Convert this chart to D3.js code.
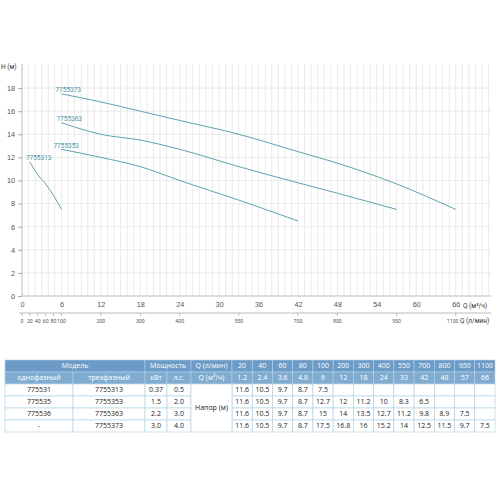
<!DOCTYPE html>
<html>
<head>
<meta charset="utf-8">
<script src="https://cdn.jsdelivr.net/npm/d3@7"></script>
<style>
  body { margin: 0; background: #fff; }
  svg { display: block; }
</style>
</head>
<body>
<div id="viewport"></div>
<script>
// flow points, l/min and m3/h (columns of the table)
var qLmin = [20, 40, 60, 80, 100, 200, 300, 400, 550, 700, 800, 950, 1100];
var qM3h = [1.2, 2.4, 3.6, 4.8, 6, 12, 18, 24, 33, 42, 48, 57, 66];

// pump models
var singlePhase = ["775531", "775535", "775536", "-"];
var threePhase = ["7755313", "7755353", "7755363", "7755373"];
var powerKw = ["0.37", "1.5", "2.2", "3.0"];
var powerHp = ["0.5", "2.0", "3.0", "4.0"];

// head, m (null = empty cell)
var head7755313 = [11.6, 10.5, 9.7, 8.7, 7.5, null, null, null, null, null, null, null, null];
var head7755353 = [11.6, 10.5, 9.7, 8.7, 12.7, 12, 11.2, 10, 8.3, 6.5, null, null, null];
var head7755363 = [11.6, 10.5, 9.7, 8.7, 15, 14, 13.5, 12.7, 11.2, 9.8, 8.9, 7.5, null];
var head7755373 = [11.6, 10.5, 9.7, 8.7, 17.5, 16.8, 16, 15.2, 14, 12.5, 11.5, 9.7, 7.5];
var heads = [head7755313, head7755353, head7755363, head7755373];

// first table column each curve is drawn from
var curveFrom = [0, 4, 4, 4];

var yTicks = [0, 2, 4, 6, 8, 10, 12, 14, 16, 18];
var xTicks = [0, 6, 12, 18, 24, 30, 36, 42, 48, 54, 60, 66];

var W = 500, H = 500;
var svg = d3.select("#viewport").append("svg")
    .attr("width", W).attr("height", H)
    .style("font-family", "Roboto, 'Open Sans', sans-serif");

// scales
var x = d3.scaleLinear().domain([0, 66]).range([22, 455.7]);
var y = d3.scaleLinear().domain([0, 20]).range([296, 65]);

var lineColor = "#5fa3b0", labelColor = "#4b95a8", gridColor = "#e6e6e6";

// grid
var grid = svg.append("g");
grid.selectAll(".vg").data(d3.range(1, 72)).enter().append("line")
    .attr("x1", function(d) { return x(d); }).attr("x2", function(d) { return x(d); })
    .attr("y1", 64).attr("y2", 296)
    .attr("stroke", gridColor).attr("stroke-width", 0.8);
grid.selectAll(".hg").data(yTicks.slice(1)).enter().append("line")
    .attr("x1", 22).attr("x2", 491)
    .attr("y1", function(d) { return y(d); }).attr("y2", function(d) { return y(d); })
    .attr("stroke", gridColor).attr("stroke-width", 0.8);

// axes
var yAxis = svg.append("g")
    .attr("transform", "translate(22,0)")
    .call(d3.axisLeft(y).tickValues(yTicks).tickSize(4).tickPadding(3));
yAxis.select(".domain").attr("d", "M0,64V296").attr("stroke", "#bbb");
yAxis.selectAll(".tick line").attr("stroke", "#aaa");
yAxis.selectAll("text").attr("fill", "#555").style("font-size", "7.3px");

var xAxis = svg.append("g")
    .attr("transform", "translate(0,296)")
    .call(d3.axisBottom(x).tickValues(xTicks).tickSize(0).tickPadding(6));
xAxis.select(".domain").attr("d", "M22,0H491").attr("stroke", "#bbb");
xAxis.selectAll("text").attr("fill", "#555").style("font-size", "7.3px");

// second axis in l/min
var x2 = function(l) { return x(l * 0.06); };
var x2Axis = svg.append("g").attr("transform", "translate(0,313)");
x2Axis.append("line").attr("x1", 19).attr("x2", 491).attr("stroke", "#aaa").attr("stroke-width", 0.8);
x2Axis.selectAll(".t").data([0].concat(qLmin)).enter().append("line")
    .attr("x1", function(d) { return x2(d); }).attr("x2", function(d) { return x2(d); })
    .attr("y1", 0).attr("y2", 3).attr("stroke", "#999").attr("stroke-width", 0.6);
x2Axis.selectAll("text").data([0].concat(qLmin)).enter().append("text")
    .attr("x", function(d) { return x2(d) - (d === 1100 ? 3 : 0); }).attr("y", 9.5)
    .attr("text-anchor", "middle").attr("fill", "#555")
    .style("font-size", "5.2px").text(function(d) { return d; });

// axis titles
svg.append("text").attr("x", 1).attr("y", 69).attr("fill", "#333")
    .style("font-size", "6.5px").text("H (м)");
svg.append("text").attr("x", 463).attr("y", 307.5).attr("fill", "#333")
    .style("font-size", "6.5px").text("Q (м³/ч)");
svg.append("text").attr("x", 460).attr("y", 323).attr("fill", "#333")
    .style("font-size", "6.5px").text("Q (л/мин)");

// curves
var line = d3.line()
    .x(function(d) { return x(d.q); })
    .y(function(d) { return y(d.h); })
    .curve(d3.curveMonotoneX);

var labelOffset = [[-4, -2.5], [-8, -1.5], [-5, -2], [-6, -2]];
heads.forEach(function(h, i) {
    var pts = [];
    for (var k = curveFrom[i]; k < h.length; k++) {
        if (h[k] !== null) pts.push({q: qM3h[k], h: h[k]});
    }
    svg.append("path").datum(pts)
        .attr("d", line)
        .attr("fill", "none")
        .attr("stroke", lineColor)
        .attr("stroke-width", 1);
    svg.append("text")
        .attr("x", x(pts[0].q) + labelOffset[i][0])
        .attr("y", y(pts[0].h) + labelOffset[i][1])
        .attr("fill", labelColor)
        .style("font-size", "6.5px")
        .text(threePhase[i]);
});

// table
var tbl = svg.append("g").style("font-family", "'Open Sans', 'Noto Sans', sans-serif");
var colEdges = [5, 73, 145, 167, 191, 232];
var dataW = (495 - 232) / qLmin.length;
qLmin.forEach(function(d, i) { colEdges.push(232 + (i + 1) * dataW); });
var tableTop = 360, rowH = 12;
var hdr1 = "#6b9bc6", hdr2 = "#80acd2", border = "#a9cfe0";

function cell(c0, c1, r0, r1, fill, txt, color) {
    var x0 = colEdges[c0], x1 = colEdges[c1];
    var y0 = tableTop + r0 * rowH, y1 = tableTop + r1 * rowH;
    if (fill) tbl.append("rect").attr("x", x0).attr("y", y0)
        .attr("width", x1 - x0).attr("height", y1 - y0).attr("fill", fill)
        .attr("stroke", fill === "#fff" ? border : "#b7d0e6").attr("stroke-width", 0.6);
    if (txt !== null && txt !== undefined) tbl.append("text")
        .attr("x", (x0 + x1) / 2).attr("y", (y0 + y1) / 2 + 2.4)
        .attr("text-anchor", "middle").attr("fill", color)
        .style("font-size", "7px").text(txt);
}

// header rows
cell(0, 2, 0, 1, hdr1, "Модель", "#fff");
cell(2, 4, 0, 1, hdr1, "Мощность", "#fff");
cell(4, 5, 0, 1, hdr1, "Q (л/мин)", "#fff");
cell(0, 1, 1, 2, hdr2, "однофазный", "#fff");
cell(1, 2, 1, 2, hdr2, "трехфазный", "#fff");
cell(2, 3, 1, 2, hdr2, "кВт", "#fff");
cell(3, 4, 1, 2, hdr2, "л.с.", "#fff");
cell(4, 5, 1, 2, hdr2, "Q (м³/ч)", "#fff");
qLmin.forEach(function(d, i) { cell(5 + i, 6 + i, 0, 1, hdr1, d, "#fff"); });
qM3h.forEach(function(d, i) { cell(5 + i, 6 + i, 1, 2, hdr2, d, "#fff"); });

// body rows
var txtColor = "#222";
threePhase.forEach(function(m, r) {
    cell(0, 1, 2 + r, 3 + r, "#fff", singlePhase[r], txtColor);
    cell(1, 2, 2 + r, 3 + r, "#fff", m, txtColor);
    cell(2, 3, 2 + r, 3 + r, "#fff", powerKw[r], txtColor);
    cell(3, 4, 2 + r, 3 + r, "#fff", powerHp[r], txtColor);
    heads[r].forEach(function(h, k) {
        cell(5 + k, 6 + k, 2 + r, 3 + r, "#fff", h === null ? null : h, txtColor);
    });
});
cell(4, 5, 2, 6, "#fff", "Напор (м)", txtColor);
</script>
</body>
</html>
